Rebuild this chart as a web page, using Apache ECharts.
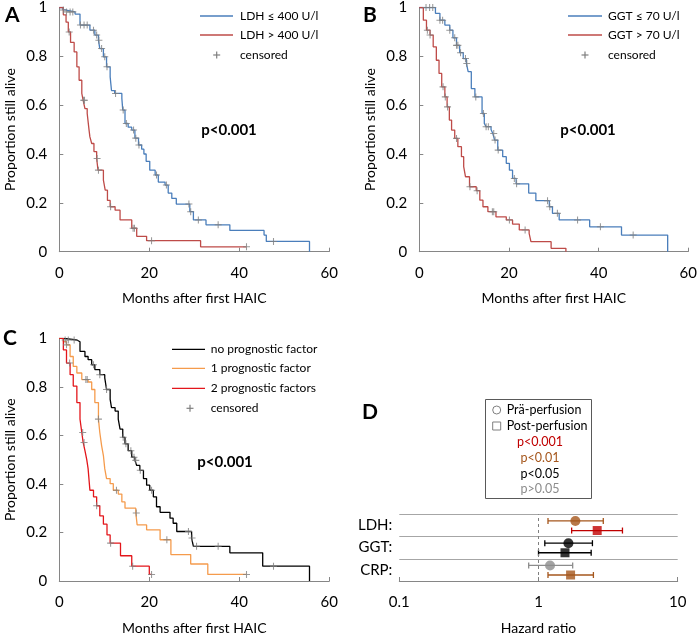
<!DOCTYPE html>
<html>
<head>
<meta charset="utf-8">
<script src="https://cdn.jsdelivr.net/npm/echarts@6/dist/echarts.min.js"></script>
<style>
html, body { margin: 0; padding: 0; background: #fff; }
#chart { width: 700px; height: 636px; }
</style>
</head>
<body>
<div id="chart"></div>
<script>
// Kaplan-Meier steps [months, proportion alive]
var ldhLow = [[0,1],[0.8,0.99],[1.3,0.982],[3.5,0.973],[4.6,0.928],[6.8,0.907],[7.9,0.887],[8.7,0.866],[9.0,0.832],[9.8,0.798],[10.5,0.757],[11.3,0.716],[11.6,0.66],[12.3,0.648],[13.9,0.628],[14.1,0.58],[14.6,0.525],[15.3,0.51],[16.1,0.498],[16.8,0.465],[17.6,0.437],[18.3,0.42],[18.8,0.40],[19.3,0.37],[20.1,0.334],[21.3,0.314],[22.0,0.285],[23.5,0.273],[24.2,0.24],[25.0,0.218],[26.0,0.195],[29.0,0.164],[29.8,0.13],[32.6,0.11],[37.9,0.087],[45.5,0.068],[46.0,0.042],[55.6,0]];
var ldhHigh = [[0,1],[0.9,0.97],[1.5,0.94],[2.0,0.90],[2.5,0.857],[3.3,0.818],[3.9,0.757],[4.4,0.702],[5.0,0.648],[5.3,0.62],[5.7,0.586],[6.2,0.566],[6.6,0.50],[6.8,0.47],[7.2,0.443],[7.7,0.41],[8.3,0.382],[8.6,0.334],[9.8,0.293],[10.2,0.252],[10.7,0.21],[11.3,0.184],[12.4,0.17],[13.5,0.13],[16.1,0.096],[17.2,0.063],[19.4,0.045],[31.4,0.02],[41.6,0.02]];
var ldhLowCens = [[0.9,0.99],[1.6,0.982],[2.4,0.982],[3.0,0.982],[4.7,0.928],[5.5,0.928],[6.2,0.928],[7.6,0.907],[8.3,0.887],[8.8,0.866],[9.4,0.832],[10.1,0.798],[10.6,0.757],[12.5,0.648],[14.2,0.58],[14.9,0.525],[16.5,0.498],[17.0,0.465],[17.7,0.437],[21.6,0.314],[23.8,0.273],[28.8,0.195],[29.2,0.164],[30.9,0.13],[35.3,0.11],[47.6,0.042]];
var ldhHighCens = [[2.2,0.90],[5.4,0.62],[5.6,0.62],[8.4,0.382],[8.7,0.334],[11.4,0.184],[16.4,0.096],[16.7,0.096],[20.5,0.045],[41.6,0.02]];

var ggtLow = [[0,1],[3.6,0.976],[4.6,0.948],[5.7,0.928],[6.8,0.907],[7.5,0.876],[8.3,0.845],[9.0,0.815],[9.8,0.791],[10.5,0.771],[10.9,0.737],[11.6,0.668],[12.4,0.634],[14.0,0.566],[14.5,0.525],[14.9,0.512],[16.0,0.50],[16.4,0.484],[16.8,0.457],[17.5,0.416],[18.6,0.389],[19.4,0.362],[20.1,0.334],[20.8,0.30],[21.6,0.278],[24.4,0.24],[26.0,0.209],[29.0,0.184],[29.7,0.157],[31.2,0.13],[38.0,0.102],[45.1,0.068],[55.4,0]];
var ggtHigh = [[0,1],[0.9,0.948],[1.6,0.907],[2.4,0.887],[3.1,0.839],[3.8,0.784],[4.4,0.73],[5.0,0.675],[5.7,0.634],[6.2,0.593],[6.7,0.539],[7.2,0.498],[7.9,0.464],[8.6,0.43],[9.4,0.389],[9.9,0.348],[10.3,0.307],[11.2,0.266],[12.7,0.25],[13.5,0.211],[14.2,0.184],[15.3,0.164],[17.1,0.143],[19.4,0.13],[20.8,0.113],[22.3,0.089],[24.5,0.075],[24.9,0.041],[29.4,0.014],[32.7,0]];
var ggtLowCens = [[1.5,1],[2.3,1],[3.0,1],[4.6,0.948],[5.2,0.948],[6.8,0.907],[7.9,0.876],[8.3,0.845],[8.6,0.845],[9.2,0.815],[10.3,0.791],[10.6,0.771],[12.6,0.634],[14.3,0.566],[14.9,0.512],[15.4,0.512],[16.6,0.484],[16.9,0.457],[17.6,0.416],[21.2,0.30],[21.7,0.278],[28.6,0.209],[29.1,0.184],[30.8,0.157],[35.3,0.13],[40.4,0.102],[47.7,0.068]];
var ggtHighCens = [[1.8,0.907],[2.4,0.887],[5.3,0.675],[5.8,0.634],[6.3,0.593],[8.3,0.464],[11.3,0.266],[12.9,0.25],[16.3,0.164],[16.6,0.164],[20.1,0.13],[23.6,0.089]];

var noFactor = [[0,1],[1.0,0.993],[3.9,0.986],[4.6,0.946],[5.7,0.925],[6.4,0.912],[7.2,0.891],[7.9,0.871],[9.0,0.85],[10.1,0.837],[10.5,0.789],[11.3,0.748],[11.6,0.714],[12.4,0.70],[13.1,0.667],[13.5,0.626],[14.1,0.592],[14.6,0.565],[15.3,0.537],[16.1,0.51],[16.8,0.497],[17.2,0.476],[17.9,0.456],[18.7,0.422],[19.4,0.395],[20.1,0.374],[20.9,0.347],[21.6,0.306],[22.4,0.283],[24.6,0.259],[25.3,0.238],[26.1,0.204],[29.4,0.177],[29.8,0.143],[37.9,0.116],[45.2,0.061],[55.6,0]];
var oneFactor = [[0,1],[0.9,0.986],[1.6,0.973],[2.4,0.925],[3.1,0.884],[3.9,0.857],[5.0,0.83],[6.4,0.82],[7.2,0.789],[7.9,0.735],[8.7,0.667],[9.0,0.612],[9.4,0.558],[9.8,0.517],[10.1,0.463],[10.5,0.422],[11.3,0.401],[12.0,0.374],[13.1,0.358],[13.9,0.326],[14.6,0.30],[17.0,0.28],[17.3,0.231],[19.4,0.211],[22.4,0.17],[24.8,0.109],[29.2,0.07],[33.0,0.027],[41.6,0.027]];
var twoFactors = [[0,1],[0.9,0.952],[1.6,0.898],[2.4,0.85],[3.1,0.803],[3.9,0.735],[4.6,0.667],[5.0,0.612],[5.3,0.571],[5.7,0.537],[6.1,0.50],[6.4,0.463],[6.8,0.374],[7.6,0.347],[8.3,0.31],[9.0,0.268],[9.8,0.234],[10.6,0.19],[11.3,0.156],[13.6,0.104],[16.1,0.061],[20.0,0.027],[20.5,0.027]];
var noFactorCens = [[1.3,0.993],[2.0,0.993],[3.3,0.993],[7.6,0.891],[9.0,0.85],[10.5,0.789],[14.2,0.592],[14.8,0.565],[15.9,0.537],[16.6,0.51],[17.0,0.497],[18.0,0.456],[20.5,0.374],[28.7,0.204],[29.5,0.177],[30.5,0.143],[35.3,0.143],[47.6,0.061]];
var oneFactorCens = [[1.6,0.973],[5.9,0.83],[6.2,0.83],[8.7,0.667],[12.7,0.374],[17.1,0.28],[23.9,0.17],[41.6,0.027]];
var twoFactorsCens = [[2.3,0.898],[5.2,0.612],[5.5,0.571],[8.3,0.31],[11.4,0.156],[16.3,0.061],[20.5,0.027]];

// panel D: hazard ratios, rows LDH, GGT, CRP
var hrRows = ['LDH:', 'GGT:', 'CRP:'];
var preHR = [1.84, 1.64, 1.21];
var preLow = [1.17, 1.11, 0.85];
var preHigh = [2.92, 2.44, 1.76];
var prePLevel = ['p<0.01', 'p<0.05', 'p>0.05'];
var postHR = [2.64, 1.55, 1.70];
var postLow = [1.73, 1.00, 1.17];
var postHigh = [4.01, 2.39, 2.48];
var postPLevel = ['p<0.001', 'p<0.05', 'p<0.01'];
var pLevels = ['p<0.001', 'p<0.01', 'p<0.05', 'p>0.05'];

var FONT = 'Lato';
var pColor = { 'p<0.001': '#c00000', 'p<0.01': '#a5561c', 'p<0.05': '#000000', 'p>0.05': '#8c8c8c' };
var blue = '#4a7ebb', red = '#be4b48';
var censColor = '#7f7f7f';
var plus = 'path://M3.4,0h1.2v8h-1.2zM0,3.4h8v1.2h-8z';

var chart = echarts.init(document.getElementById('chart'));

var grids = [
    { left: 59.3, top: 7.3, width: 270, height: 244.4 },
    { left: 419.3, top: 7.3, width: 270.7, height: 244.4 },
    { left: 59.3, top: 338.3, width: 270, height: 245 },
    { left: 399.3, top: 514.3, width: 278.4, height: 68.4 }
];

function kmX(i) {
    return {
        type: 'value', gridIndex: i, min: 0, max: 60, interval: 20,
        axisLine: { lineStyle: { color: '#868686' } },
        axisTick: { inside: true, length: 4, lineStyle: { color: '#868686' } },
        axisLabel: { fontSize: 15, color: '#000', fontFamily: FONT, margin: 14 },
        splitLine: { show: false },
        name: 'Months after first HAIC', nameLocation: 'middle', nameGap: 40,
        nameTextStyle: { fontSize: 14, color: '#000', fontFamily: FONT }
    };
}
function kmY(i) {
    return {
        type: 'value', gridIndex: i, min: 0, max: 1, interval: 0.2,
        axisLine: { show: true, lineStyle: { color: '#868686' } },
        axisTick: { show: true, inside: true, length: 4, lineStyle: { color: '#868686' } },
        axisLabel: { fontSize: 15, color: '#000', fontFamily: FONT, margin: 12 },
        splitLine: { show: false },
        name: 'Proportion still alive', nameLocation: 'middle', nameGap: 42,
        nameTextStyle: { fontSize: 14, color: '#000', fontFamily: FONT }
    };
}
function curve(i, data, color) {
    return {
        type: 'line', step: 'end', xAxisIndex: i, yAxisIndex: i, data: data,
        showSymbol: false, silent: true, z: 2,
        lineStyle: { width: 1.3, color: color }, itemStyle: { color: color }
    };
}
function cens(i, data) {
    return {
        type: 'scatter', xAxisIndex: i, yAxisIndex: i, data: data, silent: true, z: 3,
        symbol: plus, symbolSize: 7, itemStyle: { color: censColor }
    };
}

// forest plot rows (bottom to top: CRP, GGT, LDH)
var barData = [], preDots = [], postDots = [];
hrRows.forEach(function (r, k) {
    var row = hrRows.length - 1 - k;
    var cPre = pColor[prePLevel[k]], cPost = pColor[postPLevel[k]];
    barData.push({ value: [preLow[k], row + 0.7, preHigh[k]], itemStyle: { color: cPre } });
    barData.push({ value: [postLow[k], row + 0.27, postHigh[k]], itemStyle: { color: cPost } });
    preDots.push({ value: [preHR[k], row + 0.7], itemStyle: { color: cPre } });
    postDots.push({ value: [postHR[k], row + 0.27], itemStyle: { color: cPost } });
});

var series = [
    curve(0, ldhLow, blue), curve(0, ldhHigh, red),
    cens(0, ldhLowCens), cens(0, ldhHighCens),
    curve(1, ggtLow, blue), curve(1, ggtHigh, red),
    cens(1, ggtLowCens), cens(1, ggtHighCens),
    curve(2, noFactor, '#000000'), curve(2, oneFactor, '#f59b4c'), curve(2, twoFactors, '#e3161b'),
    cens(2, noFactorCens), cens(2, oneFactorCens), cens(2, twoFactorsCens),
    {
        type: 'custom', xAxisIndex: 3, yAxisIndex: 4, data: barData, silent: true, z: 2,
        renderItem: function (params, api) {
            var y = api.value(1);
            var a = api.coord([api.value(0), y]);
            var b = api.coord([api.value(2), y]);
            var st = { stroke: api.visual('color'), lineWidth: 1.3 };
            return {
                type: 'group', children: [
                    { type: 'line', shape: { x1: a[0], y1: a[1], x2: b[0], y2: b[1] }, style: st },
                    { type: 'line', shape: { x1: a[0], y1: a[1] - 3, x2: a[0], y2: a[1] + 3 }, style: st },
                    { type: 'line', shape: { x1: b[0], y1: b[1] - 3, x2: b[0], y2: b[1] + 3 }, style: st }
                ]
            };
        },
        markLine: {
            symbol: 'none', silent: true, label: { show: false },
            lineStyle: { color: '#7f7f7f', type: [3, 3], width: 1 },
            data: [{ xAxis: 1 }]
        }
    },
    { type: 'scatter', xAxisIndex: 3, yAxisIndex: 4, data: preDots, symbol: 'circle', symbolSize: 10, silent: true, z: 3 },
    { type: 'scatter', xAxisIndex: 3, yAxisIndex: 4, data: postDots, symbol: 'rect', symbolSize: 9, silent: true, z: 3 }
];

function txt(s, x, y, size, opts) {
    opts = opts || {};
    return {
        type: 'text', z: 10, silent: true,
        style: {
            text: s, x: x, y: y, fill: opts.fill || '#000',
            font: (opts.bold ? 'bold ' : '') + size + 'px ' + FONT,
            textAlign: opts.align || 'left', textVerticalAlign: 'middle'
        }
    };
}
function legLine(x1, x2, y, color) {
    return { type: 'line', silent: true, shape: { x1: x1, y1: y, x2: x2, y2: y }, style: { stroke: color, lineWidth: 1.3 } };
}
function legPlus(x, y) {
    return {
        type: 'group', silent: true, children: [
            { type: 'line', shape: { x1: x - 3.5, y1: y, x2: x + 3.5, y2: y }, style: { stroke: censColor, lineWidth: 1.2 } },
            { type: 'line', shape: { x1: x, y1: y - 3.5, x2: x, y2: y + 3.5 }, style: { stroke: censColor, lineWidth: 1.2 } }
        ]
    };
}

var graphics = [
    txt('A', 5, 15, 21, { bold: true }),
    txt('B', 363, 15, 21, { bold: true }),
    txt('C', 3, 338, 21, { bold: true }),
    txt('D', 362, 412, 21, { bold: true }),
    txt('p<0.001', 229, 130, 15, { bold: true, align: 'center' }),
    txt('p<0.001', 588, 130, 15, { bold: true, align: 'center' }),
    txt('p<0.001', 225, 462, 15, { bold: true, align: 'center' }),
    // legend A
    legLine(200, 233, 16, blue), txt('LDH ≤ 400 U/l', 240, 16, 12),
    legLine(200, 233, 35, red), txt('LDH > 400 U/l', 240, 35, 12),
    legPlus(216.7, 55), txt('censored', 240, 55, 12),
    // legend B
    legLine(568, 602, 16, blue), txt('GGT ≤ 70 U/l', 608, 16, 12),
    legLine(568, 602, 35, red), txt('GGT > 70 U/l', 608, 35, 12),
    legPlus(585, 55), txt('censored', 608, 55, 12),
    // legend C
    legLine(172, 205, 349.3, '#000000'), txt('no prognostic factor', 210.7, 349.3, 12),
    legLine(172, 205, 368.3, '#f59b4c'), txt('1 prognostic factor', 210.7, 368.3, 12),
    legLine(172, 205, 388.3, '#e3161b'), txt('2 prognostic factors', 210.7, 388.3, 12),
    legPlus(190, 408.3), txt('censored', 210.7, 408.3, 12),
    // legend D
    { type: 'rect', silent: true, shape: { x: 485.5, y: 399.5, width: 106, height: 99 }, style: { fill: '#fff', stroke: '#595959', lineWidth: 1 } },
    { type: 'circle', silent: true, shape: { cx: 496.7, cy: 410, r: 4 }, style: { fill: '#fff', stroke: '#7f7f7f', lineWidth: 1 } },
    { type: 'rect', silent: true, shape: { x: 492.7, y: 422, width: 8, height: 8 }, style: { fill: '#fff', stroke: '#7f7f7f', lineWidth: 1 } },
    txt('Prä-perfusion', 506.7, 410, 12.5),
    txt('Post-perfusion', 506.7, 426, 12.5)
];
pLevels.forEach(function (p, k) {
    graphics.push(txt(p, 540, 441.7 + k * 15.9, 12.5, { align: 'center', fill: pColor[p] }));
});

chart.setOption({
    animation: false,
    textStyle: { fontFamily: FONT },
    grid: grids,
    xAxis: [kmX(0), kmX(1), kmX(2), {
        type: 'log', logBase: 10, gridIndex: 3, min: 0.1, max: 10,
        axisLine: { lineStyle: { color: '#868686' } },
        axisTick: { inside: true, length: 4, lineStyle: { color: '#868686' } },
        axisLabel: { fontSize: 15, color: '#000', fontFamily: FONT, margin: 14 },
        splitLine: { show: false }, minorTick: { show: false },
        name: 'Hazard ratio', nameLocation: 'middle', nameGap: 40,
        nameTextStyle: { fontSize: 14, color: '#000', fontFamily: FONT }
    }],
    yAxis: [kmY(0), kmY(1), kmY(2), {
        type: 'category', gridIndex: 3, data: hrRows.slice().reverse(),
        axisLine: { show: false }, axisTick: { show: false },
        axisLabel: { fontSize: 15, color: '#000', fontFamily: FONT, margin: 7 },
        splitLine: { show: true, interval: 0, lineStyle: { color: '#a6a6a6' } }
    }, {
        type: 'value', gridIndex: 3, min: 0, max: 3, show: false
    }],
    series: series,
    graphic: graphics
});
</script>
</body>
</html>
